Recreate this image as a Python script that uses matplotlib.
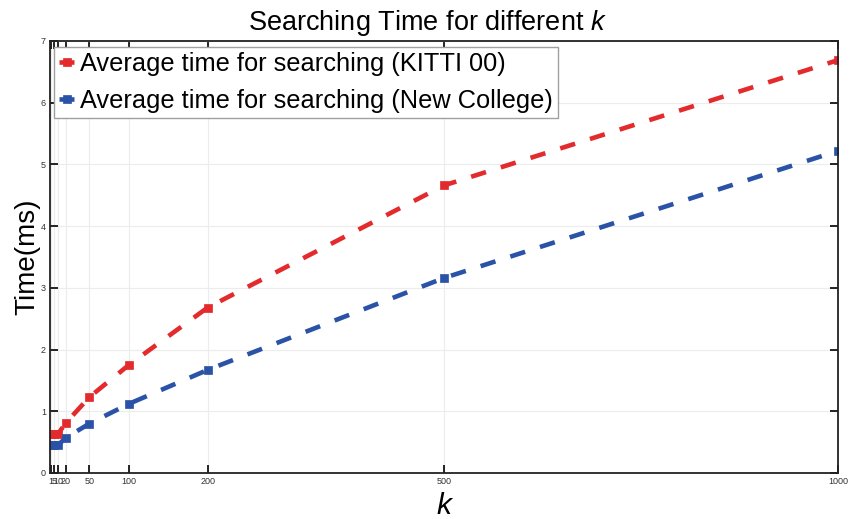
import numpy as np
import matplotlib.pyplot as plt

plt.rcParams['font.family'] = ['Liberation Sans', 'DejaVu Sans']
plt.rcParams['mathtext.fontset'] = 'custom'
plt.rcParams['mathtext.it'] = 'Liberation Sans:italic'

# number of neighbours k and mean search time (ms)
k = [1, 5, 10, 20, 50, 100, 200, 500, 1000]
t_kitti = [0.63, 0.63, 0.63, 0.81, 1.23, 1.75, 2.68, 4.66, 6.69]
t_college = [0.45, 0.45, 0.45, 0.57, 0.80, 1.12, 1.67, 3.16, 5.22]
xticks = [1, 5, 10, 20, 50, 100, 200, 500, 1000]
yticks = [0, 1, 2, 3, 4, 5, 6, 7]

red = '#e32a2c'
blue = '#2a52a7'

fig = plt.figure(figsize=(8.55, 5.19), dpi=100)
ax = fig.add_axes([50/855, 46/519, 788/855, 432/519])

style = dict(lw=3.3, ls=(0, (3.4, 3.4)), marker='s', ms=5.5, mew=0.5)
ax.plot(k, t_kitti, color=red, label='Average time for searching (KITTI 00)', **style)
ax.plot(k, t_college, color=blue, label='Average time for searching (New College)', **style)

ax.set_xlim(0, 1000)
ax.set_ylim(0, 7)
ax.set_xticks(xticks)
ax.set_yticks(yticks)
ax.tick_params(direction='in', length=6, width=1.2, labelsize=6.5,
               labelcolor='#333333', top=True, right=True, pad=3)
ax.grid(True, color='#ececec', lw=0.8)
ax.set_axisbelow(True)
for s in ax.spines.values():
    s.set_linewidth(1.3)
    s.set_color('#222222')

# title centred on the figure rather than on the axes
ax.set_title('Searching Time for different $k$', fontsize=19.5, pad=8, x=0.479)
ax.set_xlabel('k', fontsize=21.5, style='italic', labelpad=4)
ax.set_ylabel('Time(ms)', fontsize=20, labelpad=0)

leg = ax.legend(loc='upper left', bbox_to_anchor=(54/855, 472/519),
                bbox_transform=fig.transFigure, borderaxespad=0,
                fontsize=18.3, handlelength=0.6, handletextpad=0.22,
                borderpad=0.2, labelspacing=0.5,
                fancybox=False, framealpha=1)
leg.get_frame().set_edgecolor('#a0a0a0')
leg.get_frame().set_linewidth(1.0)

fig.savefig('out.png', dpi=100)
